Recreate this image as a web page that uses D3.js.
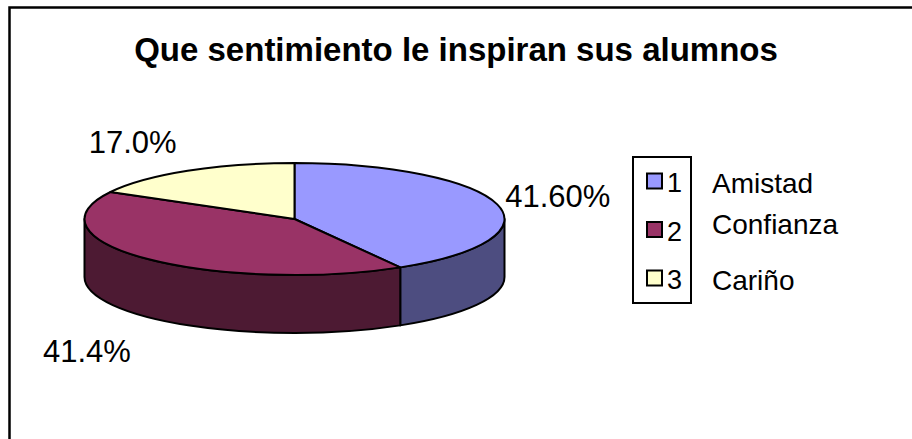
<!DOCTYPE html>
<html>
<head>
<meta charset="utf-8">
<script src="https://cdn.jsdelivr.net/npm/d3@7"></script>
<style>
  html, body { margin: 0; padding: 0; background: #fff; }
  svg text { font-family: "Liberation Sans", Arial, sans-serif; fill: #000; }
</style>
</head>
<body>
<div id="chart"></div>
<script>
// chart data
var categories = ["Amistad", "Confianza", "Cariño"];
var values = [41.6, 41.4, 17.0];
var pctLabels = ["41.60%", "41.4%", "17.0%"];
var legendKeys = ["1", "2", "3"];
var title = "Que sentimiento le inspiran sus alumnos";

var topColors = ["#9999ff", "#993366", "#ffffcc"];
var sideColors = ["#4d4d80", "#4d1a33", "#808066"];

window.onload = init;

function init() {
  const width = 912;
  const height = 439;

  // pie geometry (3D tilted ellipse)
  const cx = 294.5, cy = 219;
  const rx = 210, ry = 56;
  const depth = 58;

  const svg = d3.select("#chart")
                .append("svg")
                .attr("width", width)
                .attr("height", height);

  // outer chart border (runs off the right/bottom of the picture)
  svg.append("rect")
     .attr("x", 9.5)
     .attr("y", 7.5)
     .attr("width", 940)
     .attr("height", 460)
     .attr("fill", "none")
     .attr("stroke", "#000")
     .attr("stroke-width", 2.5);

  svg.append("text")
     .attr("x", 456)
     .attr("y", 61)
     .attr("text-anchor", "middle")
     .style("font-size", "33px")
     .style("font-weight", "bold")
     .text(title);

  const pie = d3.pie().sort(null).value((d) => d);
  const arcs = pie(values);

  function pt(a, dy) {
    return [cx + rx * Math.sin(a), cy - ry * Math.cos(a) + (dy || 0)];
  }

  function topPath(d) {
    const p0 = pt(d.startAngle), p1 = pt(d.endAngle);
    const large = (d.endAngle - d.startAngle) > Math.PI ? 1 : 0;
    return "M" + cx + "," + cy + "L" + p0 + "A" + rx + "," + ry + " 0 " + large + " 1 " + p1 + "Z";
  }

  function sidePath(d) {
    const s0 = Math.max(d.startAngle, Math.PI / 2);
    const s1 = Math.min(d.endAngle, Math.PI * 3 / 2);
    if (s0 >= s1) return null;
    const a = pt(s0), b = pt(s1), bb = pt(s1, depth), ab = pt(s0, depth);
    return "M" + a + "A" + rx + "," + ry + " 0 0 1 " + b +
           "L" + bb + "A" + rx + "," + ry + " 0 0 0 " + ab + "Z";
  }

  const pieG = svg.append("g");

  pieG.selectAll("path.side")
      .data(arcs.filter((d) => sidePath(d) !== null))
      .enter()
      .append("path")
      .attr("class", "side")
      .attr("d", sidePath)
      .attr("fill", (d) => sideColors[d.index])
      .attr("stroke", "#000")
      .attr("stroke-width", 2)
      .attr("stroke-linejoin", "round");

  pieG.selectAll("path.top")
      .data(arcs)
      .enter()
      .append("path")
      .attr("class", "top")
      .attr("d", topPath)
      .attr("fill", (d) => topColors[d.index])
      .attr("stroke", "#000")
      .attr("stroke-width", 2)
      .attr("stroke-linejoin", "round");

  // data labels outside the slices
  svg.selectAll("text.pct")
     .data(arcs)
     .enter()
     .append("text")
     .attr("class", "pct")
     .style("font-size", "31px")
     .attr("text-anchor", (d) => Math.sin((d.startAngle + d.endAngle) / 2) > 0 ? "start" : "end")
     .attr("x", (d) => {
       const m = (d.startAngle + d.endAngle) / 2;
       const front = Math.cos(m) < 0 ? -6 : 0;
       return pt(m)[0] + (Math.sin(m) > 0 ? 8 : -11) + front;
     })
     .attr("y", (d) => {
       const m = (d.startAngle + d.endAngle) / 2;
       const front = Math.cos(m) < 0 ? depth + 10 : 0;
       return pt(m, front)[1] - Math.cos(m) * 34 + 11;
     })
     .text((d) => pctLabels[d.index]);

  // legend
  const legend = svg.append("g");
  legend.append("rect")
        .attr("x", 633)
        .attr("y", 157)
        .attr("width", 58)
        .attr("height", 146)
        .attr("fill", "#fff")
        .attr("stroke", "#000")
        .attr("stroke-width", 2);

  const rowY = d3.scalePoint()
                 .domain(legendKeys)
                 .range([181, 278]);

  legend.selectAll("rect.swatch")
        .data(legendKeys)
        .enter()
        .append("rect")
        .attr("class", "swatch")
        .attr("x", 647)
        .attr("y", (d) => rowY(d) - 7.5)
        .attr("width", 15)
        .attr("height", 15)
        .attr("fill", (d, i) => topColors[i])
        .attr("stroke", "#000")
        .attr("stroke-width", 2);

  legend.selectAll("text.key")
        .data(legendKeys)
        .enter()
        .append("text")
        .attr("class", "key")
        .attr("x", 667)
        .attr("y", (d) => rowY(d) + 11)
        .style("font-size", "27px")
        .text((d) => d);

  // category names sit outside the legend box
  const nameShift = [0, -8, 0];
  legend.selectAll("text.name")
        .data(categories)
        .enter()
        .append("text")
        .attr("class", "name")
        .attr("x", 712)
        .attr("y", (d, i) => rowY(legendKeys[i]) + 12 + nameShift[i])
        .style("font-size", "28px")
        .text((d) => d);
}
</script>
</body>
</html>
